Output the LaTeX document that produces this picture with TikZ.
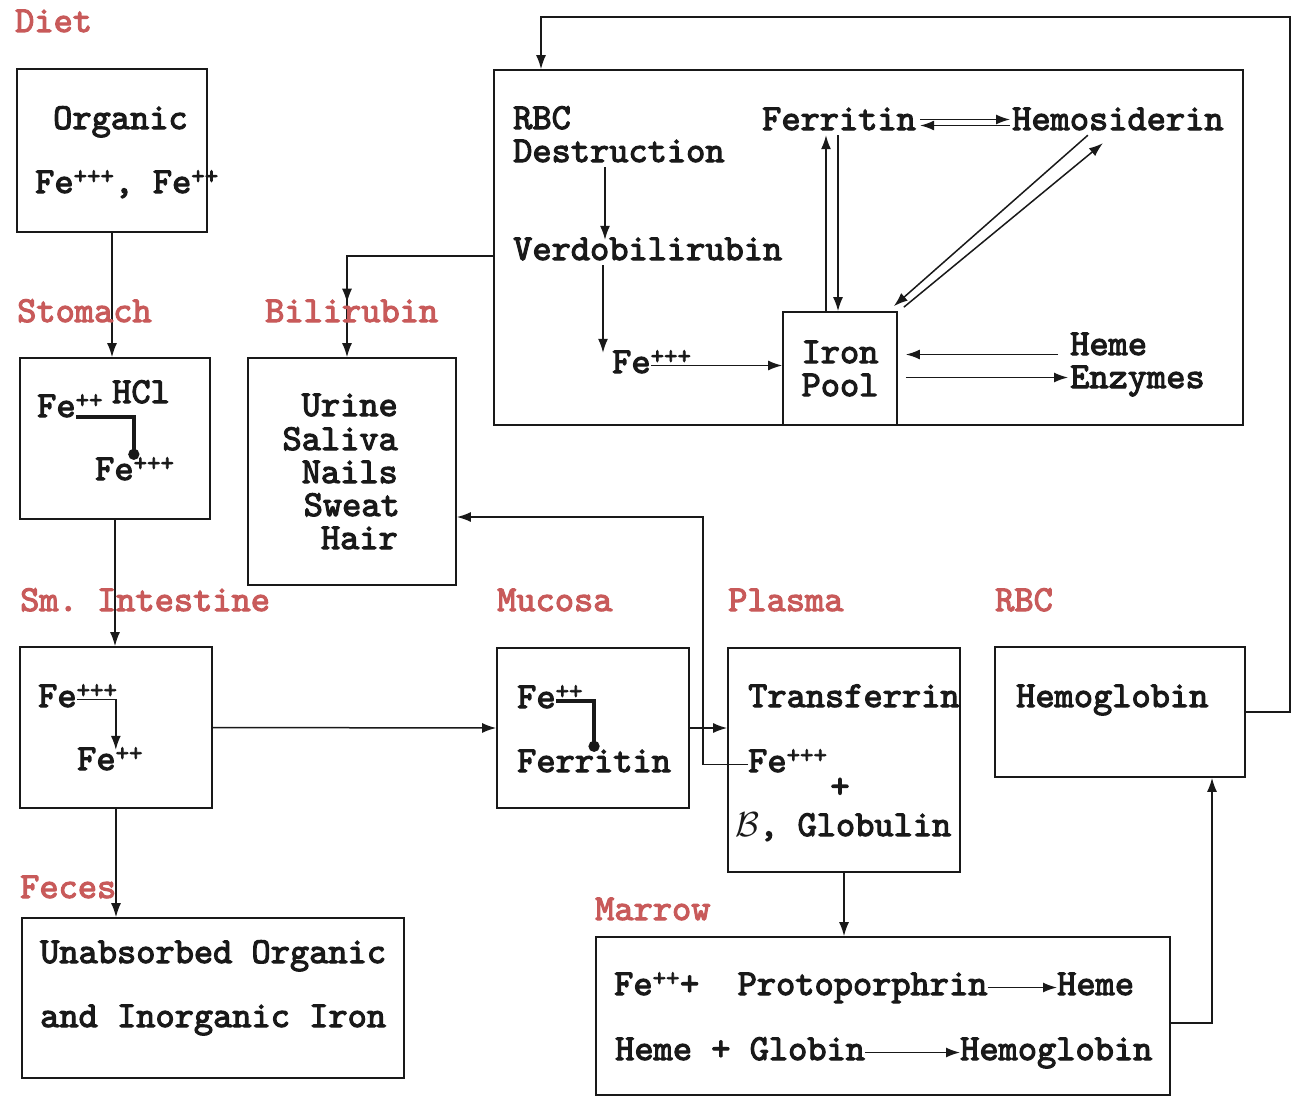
\documentclass[tikz,border=0pt]{standalone}
\usepackage{fontspec}
\newfontfamily\tw{lmmono10-regular.otf}[FakeBold=3]
\usetikzlibrary{arrows.meta,calc,decorations.markings}
\definecolor{lbl}{RGB}{200,90,90}
\definecolor{ink}{RGB}{25,25,25}
\newcommand\sups[1]{\textsuperscript{#1}}
\frenchspacing
\begin{document}
\begin{tikzpicture}[x=1pt,y=-1pt,
 tt/.style={font=\tw\fontsize{36.6}{33}\selectfont},
 txt/.style={tt, inner sep=0, text height=20pt, text depth=5pt, anchor=base west, text=ink},
 lab/.style={txt, text=lbl},
 box/.style={draw=ink, line width=1.7pt, inner sep=0},
 arr/.style={draw=ink, line width=1.5pt, -{Latex[length=14pt,width=10pt]}},
 dotarr/.style={draw=ink, line width=4pt, -{Circle[length=11pt]}},
]
\useasboundingbox (0,0) rectangle (1300,1097);
% boxes
\node[box,minimum width=190,minimum height=163] (organic) at (112,150.5) {};
\node[box,minimum width=190,minimum height=161] (stomach) at (115,438.5) {};
\node[box,minimum width=192,minimum height=161] (intestine) at (116,727.5) {};
\node[box,minimum width=382,minimum height=160] (feces) at (213,998) {};
\node[box,minimum width=208,minimum height=227] (urine) at (352,471.5) {};
\node[box,minimum width=192,minimum height=160] (mucosa) at (593,728) {};
\node[box,minimum width=232,minimum height=224] (plasma) at (844,760) {};
\node[box,minimum width=250,minimum height=130] (rbc) at (1120,712) {};
\node[box,minimum width=574,minimum height=158] (marrow) at (883,1016) {};
\node[box,minimum width=749,minimum height=355] (destr) at (868.5,247.5) {};
\node[box,tt,text=ink,minimum width=114,minimum height=113,align=center] (pool) at (840,368.5) {Iron\\Pool};
% coordinates for routing
\coordinate (c605) at (605,0);
\coordinate (c603) at (603,0);
\coordinate (c826) at (826,0);
\coordinate (c838) at (838,0);
\coordinate (uj) at (703,517);
\coordinate (mr) at (1212,1023);
\coordinate (t1) at (1290,17);
\coordinate (t2) at (541,17);
\coordinate (b1) at (347,256);
% texts
\node[txt] (org) at (53,129) {Organic};
\node[txt] (orgfe) at (35,193) {Fe\sups{+++}, Fe\sups{++}};
\node[txt] (sfe1) at (37,417) {Fe\rlap{\sups{++}}};
\node[txt] (hcl) at (112,403) {HCl};
\node[txt] (sfe2) at (95,480) {Fe\rlap{\sups{+++}}};
\node[txt] (ife1) at (38,707) {Fe\rlap{\sups{+++}}};
\node[txt] (ife2) at (77,770) {Fe\rlap{\sups{++}}};
\node[txt] (un1) at (40,963) {Unabsorbed Organic};
\node[txt] (un2) at (40,1027) {and Inorganic Iron};
\node[txt,anchor=base east] (u1) at (398,416) {Urine};
\node[txt,anchor=base east] (u2) at (398,450) {Saliva};
\node[txt,anchor=base east] (u3) at (398,483) {Nails};
\node[txt,anchor=base east] (u4) at (400,516) {Sweat};
\node[txt,anchor=base east] (u5) at (398,549) {Hair};
\node[txt] (mfe) at (517,708) {Fe\rlap{\sups{++}}};
\node[txt] (mferr) at (517,772) {Ferritin};
\node[txt] (ptr) at (748,707) {Transferrin};
\node[txt] (pfe) at (748,772) {Fe\rlap{\sups{+++}}};
\node[txt,anchor=center] (pplus) at (840,790) {+};
\node[txt] (pglob) at (735,836) {\scalebox{1.4}{$\mathcal{B}$}, Globulin};
\node[txt] (hb) at (1016,707) {Hemoglobin};
\node[txt] (m1) at (614,995) {Fe\sups{++}+\ \ Protoporphrin};
\node[txt] (m2) at (1057,995) {Heme};
\node[txt] (m3) at (615,1060) {Heme + Globin};
\node[txt] (m4) at (960,1060) {Hemoglobin};
\node[txt] (drbc) at (513,129) {RBC};
\node[txt] (dst) at (513,162) {Destruction};
\node[txt] (verd) at (513,260) {Verdobilirubin};
\node[txt] (dfe) at (612,373) {Fe\rlap{\sups{+++}}};
\node[txt] (fer) at (762,130) {Ferritin};
\node[txt] (hem) at (1012,130) {Hemosiderin};
\node[txt] (heme) at (1070,355) {Heme};
\node[txt] (enz) at (1070,388) {Enzymes};
% connectors
\draw[arr] (organic.south) -- (organic.south |- stomach.north);
\draw[arr] (stomach.south) -- (stomach.south |- intestine.north);
\draw[arr] (intestine.south) -- (intestine.south |- feces.north);
\draw[arr] (intestine.east) -- (mucosa.west);
\draw[arr] (mucosa.east) -- (mucosa.east -| plasma.west);
\draw[arr] (pfe.west) -| (uj) -- (uj -| urine.east);
\draw[arr] (plasma.south) -- (plasma.south |- marrow.north);
\draw[arr] (marrow.east |- mr) -- (mr) -- (mr |- rbc.south);
\draw[arr] (rbc.east) -| (t1) -- (t2) -- (t2 |- destr.north);
\draw[arr, postaction={decorate}, decoration={markings, mark=at position 0.78 with {\arrow{Latex[length=14pt,width=10pt]}}}] (destr.west |- b1) -- (b1) -- (b1 |- urine.north);
\draw[dotarr] (sfe1.base east) -| (sfe2.north east);
\draw[arr] (ife1.east) -| (ife2.north east);
\draw[dotarr] (mfe.east) -| (mferr.north);
\draw[arr] (dst.south -| c605) -- (verd.north -| c605);
\draw[arr] (verd.south -| c603) -- (dfe.north -| c603);
\draw[arr] (dfe.east) -- (dfe.east -| pool.west);
\draw[arr] (pool.north -| c826) -- (fer.south -| c826);
\draw[arr] (fer.south -| c838) -- (pool.north -| c838);
\draw[arr] ($(fer.east)+(4,-3)$) -- ($(hem.west)+(-2,-3)$);
\draw[arr] ($(hem.west)+(-2,3)$) -- ($(fer.east)+(4,3)$);
\draw[arr] ($(hem.south)+(-30,0)$) -- ($(pool.north east)+(-4,-5)$);
\draw[arr] ($(pool.north east)+(6,-4)$) -- ($(hem.south)+(-15,8)$);
\draw[arr] ($(heme.west)+(-12,7)$) -- ($(pool.east |- heme.west)+(8,7)$);
\draw[arr] ($(pool.east |- enz.west)+(8,-3)$) -- ($(enz.west)+(-2,-3)$);
\draw[arr] (m1.east) -- (m2.west);
\draw[arr] (m3.east) -- (m4.west);
% section labels
\node[lab] (ldiet) at (15,32) {Diet};
\node[lab] (lstom) at (17,322) {Stomach};
\node[lab] (lint) at (20,611) {Sm. Intestine};
\node[lab] (lfeces) at (20,898) {Feces};
\node[lab] (lbili) at (265,322) {Bilirubin};
\node[lab] (lmuc) at (497,611) {Mucosa};
\node[lab] (lplas) at (728,611) {Plasma};
\node[lab] (lrbc) at (995,611) {RBC};
\node[lab] (lmar) at (595,920) {Marrow};
\end{tikzpicture}
\end{document}
